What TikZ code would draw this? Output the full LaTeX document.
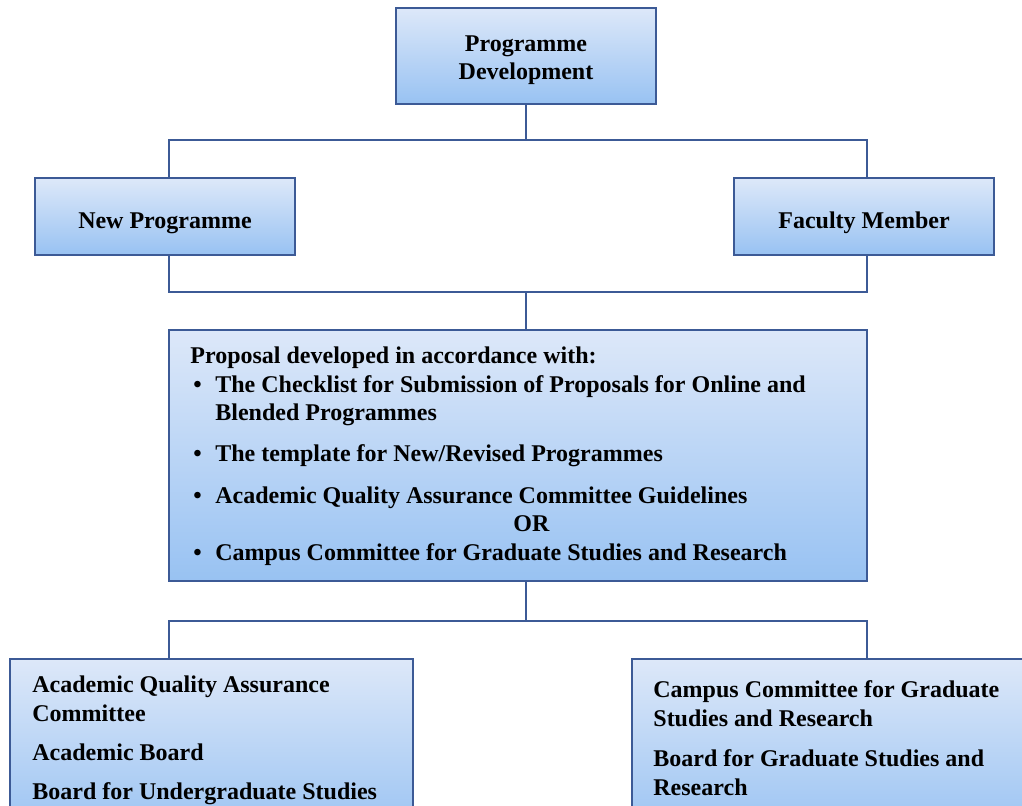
\documentclass[tikz,border=0pt]{standalone}
\usepackage{fontspec}
\setmainfont{Liberation Serif}
\usetikzlibrary{positioning}
\definecolor{boxline}{RGB}{60,90,150}
\definecolor{boxtop}{RGB}{221,232,249}
\definecolor{boxbot}{RGB}{152,194,242}
\tikzset{
  stage/.style={draw=boxline, line width=1.1pt, top color=boxtop, bottom color=boxbot,
    font=\bfseries\fontsize{12}{14}\selectfont, align=center},
  oneline/.style={text height=12pt, text depth=0pt},
  stagetext/.style={anchor=north west, inner sep=0pt, align=left,
    font=\bfseries\fontsize{12}{14.2}\selectfont},
  link/.style={draw=boxline, line width=1pt},
}
\newcommand{\itm}{\makebox[12.5pt][l]{\hspace{1.5pt}\textbullet}}
\begin{document}
\begin{tikzpicture}[x=0.5pt, y=-0.5pt]
    \clip (0,0) rectangle (1022,806);
    \node (prog) [stage, minimum width=130pt, minimum height=48pt] at (526,56) {};
    \node (progt) [stagetext, anchor=center, align=center] at (526,60.5) {Programme\\Development};
    \node (newp) [stage, oneline, minimum width=130pt, minimum height=38.5pt] at (165,216.5) {New Programme};
    \node (facm) [stage, oneline, minimum width=130pt, minimum height=38.5pt] at (864,216.5) {Faculty Member};
    \node (prop) [stage, minimum width=349pt, minimum height=125.5pt] at (518,455.5) {};
    \node (propt) [stagetext] at (190,346.6) {Proposal developed in accordance with:\\
        \itm The Checklist for Submission of Proposals for Online and\\
        \hspace*{12.5pt}Blended Programmes\\[6.5pt]
        \itm The template for New/Revised Programmes\\[6.5pt]
        \itm Academic Quality Assurance Committee Guidelines\\
        \hspace*{161.5pt}OR\\
        \itm Campus Committee for Graduate Studies and Research};
    % bottom boxes run past the edge of the page
    \node (aqac) [stage, minimum width=201.5pt, minimum height=90pt] at (211.5,749) {};
    \node (aqact) [stagetext] at (32,675.6) {Academic Quality Assurance\\Committee\\[5.3pt]
        Academic Board\\[5.3pt]Board for Undergraduate Studies};
    \node (ccgs) [stage, minimum width=214pt, minimum height=90pt] at (846,749) {};
    \node (ccgst) [stagetext] at (653,680.6) {Campus Committee for Graduate\\Studies and Research\\[6pt]
        Board for Graduate Studies and\\Research};
    % upper bus
    \coordinate (upl) at (169,140);
    \coordinate (upr) at (867,140);
    \draw [link] (prog.south) -- (prog.south |- upl);
    \draw [link] (newp.north -| upl) -- (upl) -- (upr) -- (facm.north -| upr);
    % middle bus
    \coordinate (midl) at (169,292);
    \coordinate (midr) at (867,292);
    \draw [link] (newp.south -| midl) -- (midl) -- (midr) -- (facm.south -| midr);
    \draw [link] (prog.south |- midl) -- (prog.south |- prop.north);
    % lower bus
    \coordinate (lowl) at (169,621);
    \coordinate (lowr) at (867,621);
    \draw [link] (prog.south |- prop.south) -- (prog.south |- lowl);
    \draw [link] (aqac.north -| lowl) -- (lowl) -- (lowr) -- (ccgs.north -| lowr);
\end{tikzpicture}
\end{document}
